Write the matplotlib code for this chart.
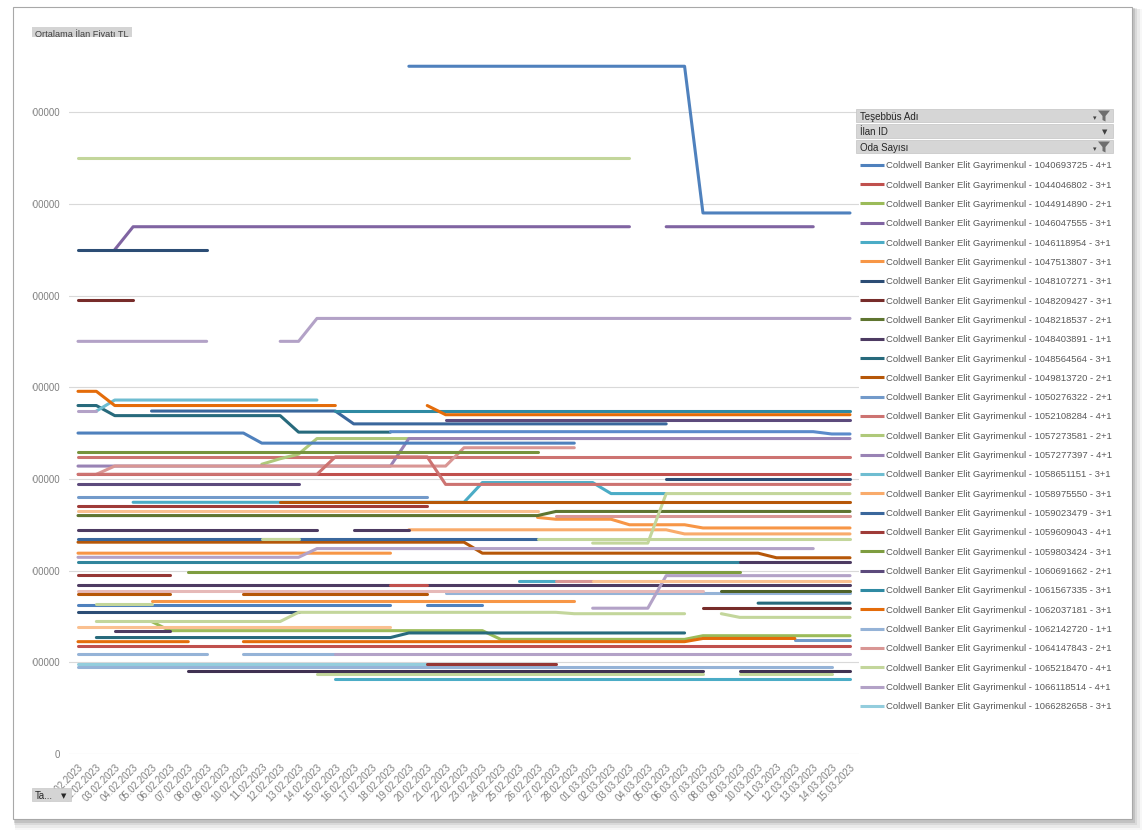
import numpy as np
import pandas as pd
import matplotlib
matplotlib.use("Agg")
import matplotlib.pyplot as plt
import matplotlib.transforms as mtransforms
from matplotlib.patches import Rectangle, Polygon

plt.rcParams['font.family'] = ['Liberation Sans', 'DejaVu Sans']

W, H, DPI = 1146, 837, 100

# ---------------- data ----------------
dates = list(pd.date_range("2023-02-01", "2023-03-15", freq="D").strftime("%d.%m.%Y"))
n_days = len(dates)

y_ticks = [0, 1000000, 2000000, 3000000, 4000000, 5000000, 6000000, 7000000]
y_tick_labels = [str(v) for v in y_ticks]

title_text = "Ortalama İlan Fiyatı TL"
agency = "Coldwell Banker Elit Gayrimenkul"
listing_ids = ["1040693725", "1044046802", "1044914890", "1046047555", "1046118954",
               "1047513807", "1048107271", "1048209427", "1048218537", "1048403891",
               "1048564564", "1049813720", "1050276322", "1052108284", "1057273581",
               "1057277397", "1058651151", "1058975550", "1059023479", "1059609043",
               "1059803424", "1060691662", "1061567335", "1062037181", "1062142720",
               "1064147843", "1065218470", "1066118514", "1066282658"]
room_counts = ["4+1", "3+1", "2+1", "3+1", "3+1", "3+1", "3+1", "3+1", "2+1", "1+1",
               "3+1", "2+1", "2+1", "4+1", "2+1", "4+1", "3+1", "3+1", "3+1", "4+1",
               "3+1", "2+1", "3+1", "3+1", "1+1", "2+1", "4+1", "4+1", "3+1"]
legend_colors = ["#4F81BD", "#C0504D", "#9BBB59", "#8064A2", "#4BACC6", "#F79646",
                 "#2C4D75", "#772C2A", "#5F7530", "#4D3B62", "#276A7C", "#B65708",
                 "#729ACA", "#CD7371", "#AFC97A", "#9983B5", "#6FBDD1", "#F9AB6B",
                 "#3A679C", "#9F3B38", "#7E9D40", "#5C4A7C", "#2F8AA3", "#E46C0A",
                 "#95B3D7", "#D99694", "#C3D69B", "#B3A2C7", "#93CDDD"]

# price runs per listing: (first day index, last day index, price in million TL)
named_runs = [
    [(18, 33, 7.50), (34, 42, 5.90)],
    [(0, 42, 3.05)],
    [(4, 4, 1.445), (5, 22, 1.345), (23, 33, 1.25), (34, 42, 1.29)],
    [(2, 2, 5.50), (3, 30, 5.75), (32, 40, 5.75)],
    [(3, 21, 2.745), (22, 28, 2.96), (29, 32, 2.84)],
    [(0, 17, 2.19), (25, 25, 2.58), (26, 29, 2.56), (30, 33, 2.50), (34, 42, 2.465)],
    [(0, 7, 5.50), (32, 42, 3.00)],
    [(0, 3, 4.95), (34, 42, 1.59)],
    [(0, 25, 2.60), (26, 42, 2.645)],
    [(0, 42, 1.845)],
    [(0, 1, 3.80), (2, 11, 3.69), (12, 17, 3.51), (37, 42, 1.645)],
    [(0, 21, 2.31), (22, 37, 2.19), (38, 42, 2.14)],
    [(0, 19, 2.80), (39, 42, 1.24)],
    [(0, 42, 3.24)],
    [(10, 10, 3.16), (11, 11, 3.22), (12, 12, 3.27), (13, 26, 3.44)],
    [(0, 17, 3.14), (18, 42, 3.44)],
    [(1, 1, 3.74), (2, 13, 3.86)],
    [(18, 32, 2.445), (33, 42, 2.40)],
    [(4, 14, 3.74), (15, 32, 3.60)],
    [(0, 19, 2.70)],
    [(6, 36, 1.98)],
    [(0, 12, 2.94), (20, 42, 3.64)],
    [(14, 42, 3.74)],
    [(0, 1, 3.955), (2, 14, 3.80), (19, 19, 3.80), (20, 42, 3.70)],
    [(0, 7, 1.09), (9, 14, 1.09), (20, 42, 1.76)],
    [(1, 1, 3.05), (2, 20, 3.14), (21, 27, 3.34)],
    [(0, 30, 6.50)],
    [(0, 7, 4.50), (11, 12, 4.50), (13, 42, 4.75)],
    [(0, 19, 0.98)],
]

# further listings drawn in the chart but not shown in the (truncated) legend
extra_runs = [
    [(0, 9, 3.50), (10, 27, 3.39)],
    [(17, 40, 3.515), (41, 42, 3.49)],
    [(0, 25, 2.345)],
    [(0, 17, 1.62), (19, 22, 1.62)],
    [(0, 12, 1.545)],
    [(0, 41, 0.95)],
    [(0, 36, 2.09)],
    [(1, 17, 1.27), (18, 33, 1.32)],
    [(14, 42, 0.82)],
    [(24, 26, 1.89)],
    [(0, 13, 3.05), (14, 19, 3.24), (20, 42, 2.94)],
    [(0, 5, 1.95)],
    [(19, 26, 0.98)],
    [(17, 19, 1.845)],
    [(0, 42, 1.18)],
    [(0, 34, 1.78)],
    [(26, 42, 2.60)],
    [(26, 28, 1.89)],
    [(0, 25, 3.29)],
    [(10, 12, 2.345), (25, 42, 2.345)],
    [(28, 31, 2.30), (32, 42, 2.84)],
    [(35, 42, 1.78)],
    [(1, 11, 1.445), (12, 26, 1.545), (27, 33, 1.53), (35, 35, 1.53), (36, 42, 1.49)],
    [(13, 34, 0.875), (36, 41, 0.875)],
    [(1, 4, 1.635)],
    [(0, 1, 3.74)],
    [(0, 13, 2.445), (15, 18, 2.445)],
    [(0, 12, 2.145), (13, 40, 2.24)],
    [(36, 42, 2.09)],
    [(28, 31, 1.59), (32, 42, 1.945)],
    [(2, 5, 1.345)],
    [(14, 42, 1.09)],
    [(6, 34, 0.91), (36, 42, 0.91)],
    [(11, 42, 2.745)],
    [(0, 25, 2.645)],
    [(0, 5, 1.74), (9, 19, 1.74)],
    [(4, 27, 1.665)],
    [(0, 17, 1.39)],
    [(0, 6, 1.225), (9, 33, 1.225), (34, 39, 1.26)],
    [(28, 42, 1.89)],
]
extra_colors = ["#4F81BD", "#5B8BCB", "#3A679C", "#4F81BD", "#2C4D75", "#95B3D7",
                "#31859C", "#276A7C", "#4BACC6", "#4BACC6", "#CD7371", "#953735",
                "#953735", "#C0504D", "#C0504D", "#E6B9B8", "#D99694", "#D99694",
                "#77933C", "#C3D69B", "#C3D69B", "#4F6228", "#C3D69B", "#C3D69B",
                "#C3D69B", "#B3A2C7", "#4D3B62", "#B3A2C7", "#4D3B62", "#B3A2C7",
                "#4D3B62", "#B3A2C7", "#403152", "#B65708", "#FAC090", "#B65708",
                "#F79646", "#FAC090", "#E46C0A", "#FAC090"]


def expand(runs):
    arr = np.full(n_days, np.nan)
    for a, b, v in runs:
        arr[a:b + 1] = v * 1e6
    return arr


# ---------------- figure ----------------
fig = plt.figure(figsize=(W / DPI, H / DPI), dpi=DPI)
fig.patch.set_facecolor("white")

bg = fig.add_axes([0, 0, 1, 1], zorder=0)
bg.set_xlim(0, W)
bg.set_ylim(H, 0)
bg.axis("off")
# panel with soft shadow
for d, a in [(8, 0.03), (6, 0.05), (4, 0.07), (2.5, 0.10)]:
    bg.add_patch(Rectangle((13 + d * 0.3, 8 + d * 0.3), 1119 + d, 813 + d,
                           facecolor="black", edgecolor="none", alpha=a))
bg.add_patch(Rectangle((13, 8), 1119, 812, facecolor="white", edgecolor="#A8A8A8", lw=0.8))

x_left, x_right = 68.8, 859.2
y_zero = 755.0
px_per_m = 91.7
y_top_val = 7.8
ax = fig.add_axes([x_left / W, (H - y_zero) / H, (x_right - x_left) / W,
                   y_top_val * px_per_m / H], zorder=1)
ax.patch.set_alpha(0)
ax.set_xlim(-0.5, n_days - 0.5)
ax.set_ylim(0, y_top_val * 1e6)
for s in ax.spines.values():
    s.set_visible(False)
ax.set_yticks(y_ticks)
ax.set_yticklabels([])
ax.yaxis.grid(True, color="#D9D9D9", lw=0.8)
ax.set_axisbelow(True)
ax.tick_params(axis="both", length=0)
ax.set_xticks(np.arange(n_days))
ax.set_xticklabels(dates, rotation=45, ha="right", va="top", rotation_mode="anchor",
                   fontsize=6.9, color="#7F7F7F")
ax.tick_params(axis="x", pad=5)

xs = np.arange(n_days)
for runs, col in zip(named_runs, legend_colors):
    ax.plot(xs, expand(runs), color=col, lw=2.2, solid_capstyle="round",
            solid_joinstyle="round")
for runs, col in zip(extra_runs, extra_colors):
    ax.plot(xs, expand(runs), color=col, lw=2.2, solid_capstyle="round",
            solid_joinstyle="round")

# y labels (left part cut off as in the source screenshot)
ytrans = mtransforms.blended_transform_factory(mtransforms.IdentityTransform(), ax.transData)
clip = mtransforms.Bbox.from_extents(32, 0, W, H)
for v, lab in zip(y_ticks, y_tick_labels):
    t = fig.text(60, v, lab, transform=ytrans, ha="right", va="center",
                 fontsize=6.9, color="#7F7F7F")
    t.set_clip_box(clip)
    t.set_clip_on(True)

# ---------------- foreground: buttons, legend ----------------
fg = fig.add_axes([0, 0, 1, 1], zorder=3)
fg.set_xlim(0, W)
fg.set_ylim(H, 0)
fg.axis("off")

# title field button, top part cut
fg.add_patch(Rectangle((32, 27.7), 100, 10.5, facecolor="#D4D4D4", edgecolor="none"))
tt = fg.text(35, 37.0, title_text, fontsize=6.6, color="#404040", ha="left",
             va="baseline")
tt.set_clip_box(mtransforms.Bbox.from_extents(32, H - 38.2, 132, H - 30.0))
tt.set_clip_on(True)

# axis field button
fg.add_patch(Rectangle((32, 789), 39, 13, facecolor="#D4D4D4", edgecolor="#C8C8C8", lw=0.5))
fg.text(35, 796, "Ta...", fontsize=7, color="#262626", ha="left", va="center")
fg.text(64, 796, "▼", fontsize=5, color="#262626", ha="center", va="center",
        family="DejaVu Sans")


def funnel(x, y):
    fg.add_patch(Polygon([(x - 6, y - 5), (x + 6, y - 5), (x + 1.5, y + 0.5),
                          (x + 1.5, y + 6), (x - 1.5, y + 4.5), (x - 1.5, y + 0.5)],
                         closed=True, facecolor="#6E6E6E", edgecolor="none"))


headers = [("Teşebbüs Adı", 109.5, "funnel"), ("İlan ID", 125, "arrow"),
           ("Oda Sayısı", 140.5, "funnel")]
for label, top, kind in headers:
    fg.add_patch(Rectangle((856, top), 257, 13.5, facecolor="#D6D6D6",
                           edgecolor="#C4C4C4", lw=0.5))
    fg.text(860, top + 7, label, fontsize=7, color="#262626", ha="left", va="center")
    if kind == "funnel":
        funnel(1104, top + 7)
        fg.text(1095, top + 8.5, "▾", fontsize=5, color="#404040", ha="center",
                va="center", family="DejaVu Sans")
    else:
        fg.text(1105, top + 7.5, "▼", fontsize=5, color="#404040", ha="center",
                va="center", family="DejaVu Sans")

row0, row_step = 165.7, 19.33
for k, (lid, rc, col) in enumerate(zip(listing_ids, room_counts, legend_colors)):
    yy = row0 + k * row_step
    fg.plot([860, 884], [yy, yy], color=col, lw=2.2, solid_capstyle="butt")
    fg.text(885.5, yy, f"{agency} - {lid} - {rc}", fontsize=6.8, color="#595959",
            ha="left", va="center")

fig.savefig("out.png", dpi=DPI, facecolor="white")
